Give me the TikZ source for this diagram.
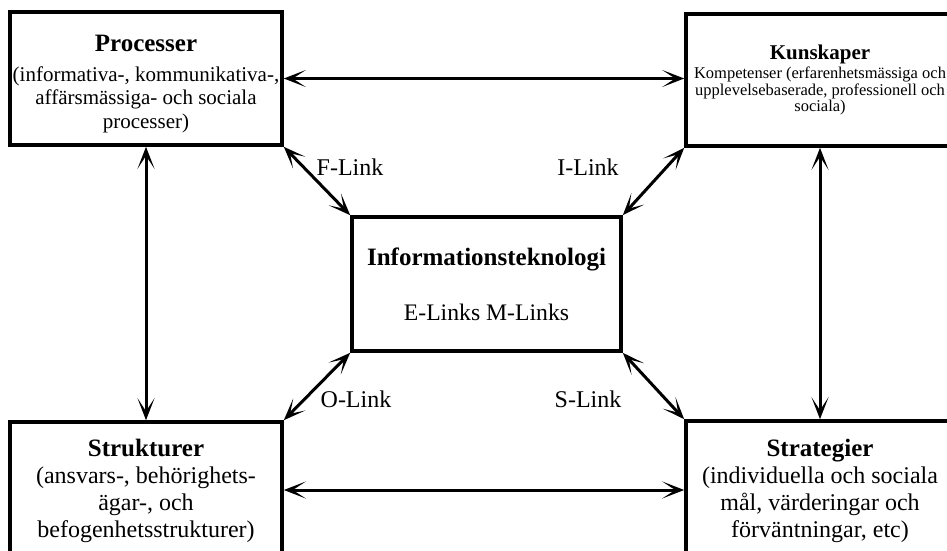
\documentclass[tikz,border=0pt]{standalone}
\usepackage{fontspec}
\setmainfont{Liberation Serif}
\usetikzlibrary{arrows.meta, positioning}

\tikzset{
  box/.style={draw, line width=3.6pt, align=center, inner sep=0pt},
  link/.style={line width=3pt, {Stealth[length=22pt, width=17pt, inset=13pt]}-{Stealth[length=22pt, width=17pt, inset=13pt]}},
  lbl/.style={font=\fontsize{24}{26}\selectfont, inner sep=0pt}
}
% bold head line of a box, the rule lowers the whole text a little
\newcommand{\boxhead}[3]{{\fontsize{#1}{#1}\selectfont\bfseries\rule{0pt}{#2}#3}}

\begin{document}
\begin{tikzpicture}[x=1pt, y=-1pt]
  \useasboundingbox (0,0) rectangle (947,550);
  \clip (0,0) rectangle (947,550);

  % Processer
  \node[box, minimum width=272pt, minimum height=133pt, font=\fontsize{21}{23.5}\selectfont] (proc) at (146,78.5) {
    \boxhead{25}{26.5pt}{Processer}\\[6.5pt]
    (informativa-, kommunikativa-,\\
    affärsmässiga- och sociala\\
    processer)
  };

  % Kunskaper
  \node[box, minimum width=268pt, minimum height=132pt, font=\fontsize{16.5}{16.5}\selectfont] (kun) at (820,80) {
    \boxhead{21}{0pt}{Kunskaper}\\[3pt]
    Kompetenser (erfarenhetsmässiga och\\
    upplevelsebaserade, professionell och\\
    sociala)
  };

  % Informationsteknologi
  \node[box, minimum width=269pt, minimum height=134pt, font=\fontsize{23.7}{26}\selectfont] (info) at (486.5,284) {
    \boxhead{25}{0pt}{Informationsteknologi}\\[29pt]
    E-Links M-Links
  };

  % Strukturer
  \node[box, minimum width=272pt, minimum height=136pt, font=\fontsize{24}{27}\selectfont] (struk) at (146,490) {
    \boxhead{25}{20pt}{Strukturer}\\
    (ansvars-, behörighets-\\
    ägar-, och\\
    befogenhetsstrukturer)
  };

  % Strategier
  \node[box, minimum width=268pt, minimum height=138pt, font=\fontsize{24}{27}\selectfont] (strat) at (820,490) {
    \boxhead{25}{20pt}{Strategier}\\
    (individuella och sociala\\
    mål, värderingar och\\
    förväntningar, etc)
  };

  % outer links
  \draw[link] (proc.east) -- (proc.east -| kun.west);
  \draw[link] (struk.east) -- (struk.east -| strat.west);
  \draw[link] (proc.south) -- (proc.south |- struk.north);
  \draw[link] (kun.south) -- (kun.south |- strat.north);

  % links to IT
  \draw[link] (proc.south east) -- (info.north west);
  \draw[link] (kun.south west) -- (info.north east);
  \draw[link] (struk.north east) -- (info.south west);
  \draw[link] (strat.north west) -- (info.south east);

  \node[lbl] (flink) at (350,167) {F-Link};
  \node[lbl] (ilink) at (588,167) {I-Link};
  \node[lbl] (olink) at (356,399) {O-Link};
  \node[lbl] (slink) at (588,399) {S-Link};
\end{tikzpicture}
\end{document}
